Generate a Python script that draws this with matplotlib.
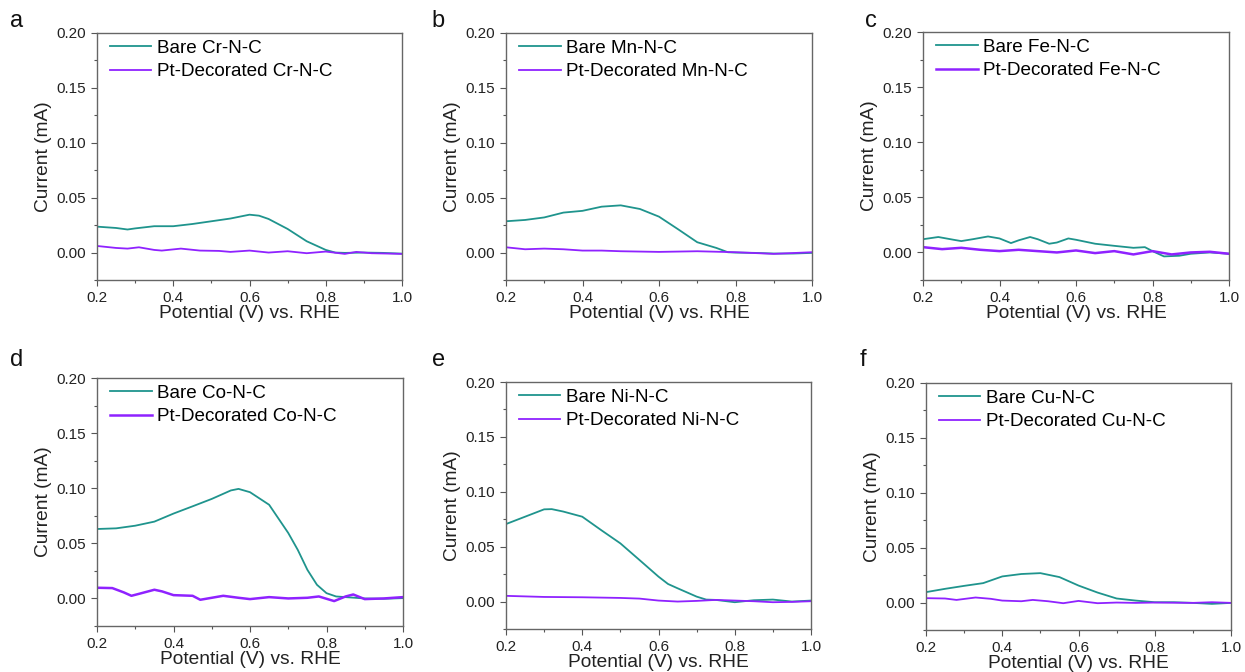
import matplotlib.pyplot as plt
from matplotlib.ticker import MultipleLocator

plt.rcParams['font.family'] = ['Liberation Sans', 'DejaVu Sans']

TEAL = '#1f948d'
PURPLE = '#8f22ff'

metals = ['Cr', 'Mn', 'Fe', 'Co', 'Ni', 'Cu']
letters = ['a', 'b', 'c', 'd', 'e', 'f']

# bare M-N-C curves (potential V, current mA)
bare_x = {
    'Cr': [0.2, 0.25, 0.28, 0.3, 0.35, 0.4, 0.45, 0.5, 0.55, 0.6, 0.625, 0.65, 0.7, 0.75, 0.8, 0.825, 0.85, 0.9, 0.95, 1.0],
    'Mn': [0.2, 0.25, 0.3, 0.35, 0.4, 0.45, 0.5, 0.55, 0.6, 0.65, 0.7, 0.75, 0.78, 0.8, 0.85, 0.9, 0.95, 1.0],
    'Fe': [0.2, 0.24, 0.28, 0.3, 0.33, 0.37, 0.4, 0.43, 0.45, 0.48, 0.5, 0.53, 0.55, 0.58, 0.6, 0.65, 0.7, 0.75, 0.78, 0.8, 0.83, 0.87, 0.9, 0.95, 1.0],
    'Co': [0.2, 0.25, 0.3, 0.35, 0.4, 0.45, 0.5, 0.55, 0.57, 0.6, 0.65, 0.7, 0.725, 0.75, 0.775, 0.8, 0.825, 0.85, 0.9, 0.95, 1.0],
    'Ni': [0.2, 0.25, 0.3, 0.32, 0.35, 0.4, 0.45, 0.5, 0.55, 0.6, 0.625, 0.65, 0.7, 0.725, 0.75, 0.8, 0.85, 0.9, 0.95, 1.0],
    'Cu': [0.2, 0.25, 0.3, 0.35, 0.4, 0.45, 0.5, 0.55, 0.6, 0.65, 0.7, 0.75, 0.8, 0.85, 0.9, 0.95, 1.0],
}
bare_y = {
    'Cr': [0.0236, 0.0224, 0.021, 0.022, 0.024, 0.024, 0.026, 0.0285, 0.031, 0.0345, 0.0336, 0.0306, 0.0215, 0.0103, 0.0024, 0.0, -0.0003, 0.0, -0.0003, -0.001],
    'Mn': [0.0285, 0.0297, 0.032, 0.0364, 0.038, 0.0418, 0.043, 0.0397, 0.0327, 0.0212, 0.0094, 0.0042, 0.0003, 0.0, -0.0003, -0.0009, -0.0009, -0.0003],
    'Fe': [0.012, 0.014, 0.0115, 0.0103, 0.012, 0.0145, 0.0127, 0.0085, 0.011, 0.014, 0.012, 0.0079, 0.009, 0.0127, 0.0115, 0.0079, 0.006, 0.0042, 0.0048, 0.0012, -0.0036, -0.003, -0.0012, 0.0, -0.0012],
    'Co': [0.063, 0.0636, 0.066, 0.0697, 0.077, 0.0836, 0.0903, 0.098, 0.0994, 0.0964, 0.085, 0.0594, 0.044, 0.026, 0.0124, 0.0048, 0.0018, 0.0012, 0.0, -0.0003, 0.0003],
    'Ni': [0.0706, 0.0773, 0.084, 0.0842, 0.082, 0.0773, 0.065, 0.053, 0.0379, 0.0227, 0.016, 0.0121, 0.0045, 0.0018, 0.0015, -0.0006, 0.0012, 0.0018, 0.0, 0.0009],
    'Cu': [0.0095, 0.0125, 0.0152, 0.0177, 0.0238, 0.026, 0.0268, 0.0232, 0.0155, 0.0091, 0.0037, 0.0018, 0.0003, 0.0003, -0.0003, -0.0012, -0.0003],
}

# Pt-decorated curves
pt_x = {
    'Cr': [0.2, 0.25, 0.28, 0.31, 0.35, 0.37, 0.42, 0.47, 0.52, 0.55, 0.6, 0.65, 0.7, 0.75, 0.8, 0.85, 0.88, 0.92, 1.0],
    'Mn': [0.2, 0.25, 0.3, 0.35, 0.4, 0.45, 0.5, 0.6, 0.7, 0.8, 0.9, 1.0],
    'Fe': [0.2, 0.25, 0.3, 0.35, 0.4, 0.45, 0.5, 0.55, 0.6, 0.65, 0.7, 0.75, 0.8, 0.85, 0.9, 0.95, 1.0],
    'Co': [0.2, 0.24, 0.27, 0.29, 0.31, 0.35, 0.37, 0.4, 0.45, 0.47, 0.5, 0.53, 0.57, 0.6, 0.65, 0.7, 0.75, 0.78, 0.82, 0.85, 0.87, 0.9, 0.95, 1.0],
    'Ni': [0.2, 0.3, 0.4, 0.5, 0.55, 0.6, 0.65, 0.7, 0.75, 0.8, 0.85, 0.9, 0.95, 1.0],
    'Cu': [0.2, 0.25, 0.28, 0.33, 0.37, 0.4, 0.45, 0.48, 0.52, 0.56, 0.6, 0.65, 0.7, 0.75, 0.8, 0.9, 0.95, 1.0],
}
pt_y = {
    'Cr': [0.006, 0.0042, 0.0036, 0.0048, 0.0024, 0.0018, 0.0036, 0.0018, 0.0015, 0.0006, 0.0018, 0.0, 0.0012, -0.0006, 0.0009, -0.0012, 0.0006, -0.0006, -0.0012],
    'Mn': [0.0048, 0.003, 0.0036, 0.003, 0.0018, 0.0018, 0.0012, 0.0006, 0.0012, 0.0003, -0.0012, 0.0003],
    'Fe': [0.0048, 0.003, 0.0042, 0.0024, 0.0012, 0.0024, 0.0012, 0.0, 0.0018, -0.0006, 0.0012, -0.0018, 0.0012, -0.0018, 0.0, 0.0006, -0.0012],
    'Co': [0.0097, 0.0094, 0.0055, 0.0024, 0.0042, 0.0079, 0.0064, 0.003, 0.0024, -0.0012, 0.0006, 0.0024, 0.0006, -0.0006, 0.0012, 0.0, 0.0006, 0.0018, -0.0024, 0.0018, 0.0036, -0.0006, 0.0, 0.0012],
    'Ni': [0.0052, 0.0042, 0.0039, 0.0033, 0.0027, 0.0009, 0.0, 0.0006, 0.0015, 0.0009, 0.0003, -0.0006, -0.0003, 0.0003],
    'Cu': [0.004, 0.0037, 0.0024, 0.0046, 0.0034, 0.0018, 0.0012, 0.0024, 0.0012, -0.0006, 0.0015, -0.0006, 0.0, -0.0003, 0.0, -0.0003, 0.0003, -0.0003],
}

W, H = 1245, 672
# axes boxes in pixels: left, top, right, bottom
boxes = [
    (97, 33, 402, 280), (506, 33, 812, 280), (923, 32, 1229, 280),
    (97, 378, 403, 626), (506, 382, 811, 629), (926, 383, 1231, 630),
]
letter_pos = [(10, 27), (431, 27), (865, 27), (10, 366), (432, 366), (860, 366)]

fig = plt.figure(figsize=(W / 100, H / 100), dpi=100)

for i, m in enumerate(metals):
    l, t, r, b = boxes[i]
    ax = fig.add_axes([l / W, 1 - b / H, (r - l) / W, (b - t) / H])
    ax.plot(bare_x[m], bare_y[m], color=TEAL, lw=1.3, label=f'Bare {m}-N-C')
    ax.plot(pt_x[m], pt_y[m], color=PURPLE, lw=1.3 if m not in ('Fe', 'Co') else 1.8,
            label=f'Pt-Decorated {m}-N-C')
    ax.set_xlim(0.2, 1.0)
    ax.set_ylim(-0.025, 0.20)
    ax.xaxis.set_major_locator(MultipleLocator(0.2))
    ax.xaxis.set_minor_locator(MultipleLocator(0.1))
    ax.yaxis.set_major_locator(MultipleLocator(0.05))
    ax.yaxis.set_minor_locator(MultipleLocator(0.025))
    ax.xaxis.set_major_formatter(plt.FormatStrFormatter('%.1f'))
    ax.yaxis.set_major_formatter(plt.FormatStrFormatter('%.2f'))
    ax.tick_params(which='both', direction='out', colors='#555555', labelcolor='#222222',
                   labelsize=11, top=False, right=False)
    ax.tick_params(which='major', length=4.5, width=0.8)
    ax.tick_params(which='minor', length=2.5, width=0.8)
    for s in ax.spines.values():
        s.set_color('#666666')
        s.set_linewidth(1.0)
    ax.set_xlabel('Potential (V) vs. RHE', fontsize=13.8, color='#222222', labelpad=0)
    ax.set_ylabel('Current (mA)', fontsize=13.8, color='#222222', labelpad=3)
    ax.legend(loc='upper left', frameon=False, fontsize=13.6, handlelength=2.2,
              handletextpad=0.3, labelspacing=0.32, borderpad=0.1, borderaxespad=0.1,
              bbox_to_anchor=(0.03, 0.988))
    lx, ly = letter_pos[i]
    fig.text(lx / W, 1 - ly / H, letters[i], fontsize=17, color='#111111')

plt.savefig('out.png', dpi=100)
